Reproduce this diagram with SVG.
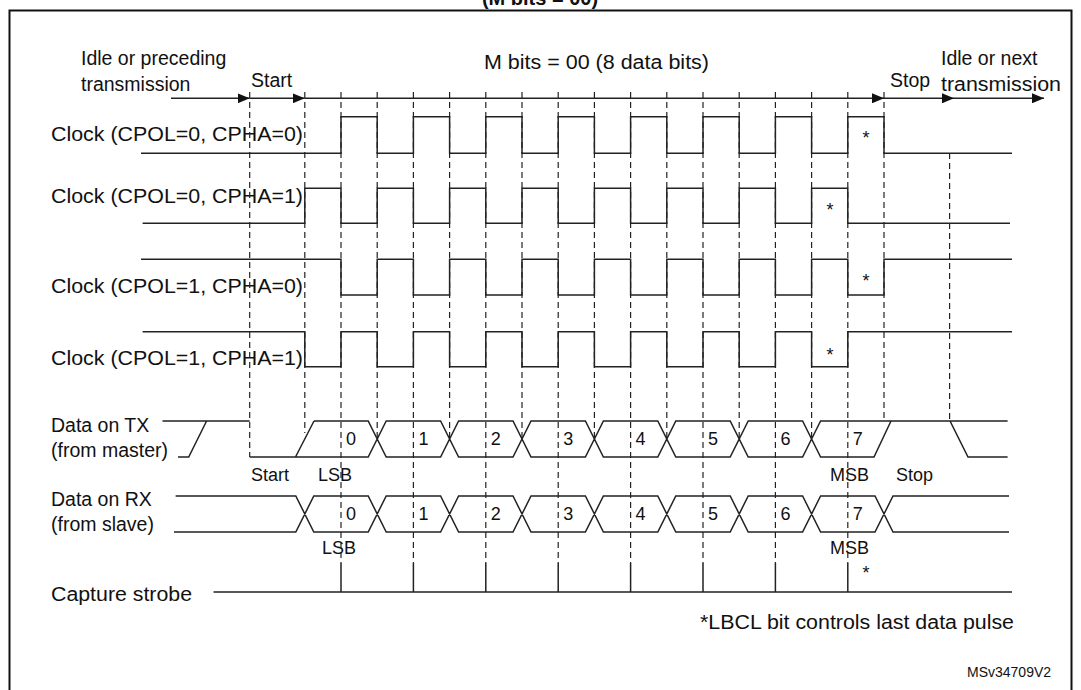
<svg xmlns="http://www.w3.org/2000/svg" width="1081" height="690" viewBox="0 0 1081 690">
<style>
text{font-family:"Liberation Sans",Arial,sans-serif;font-size:19.5px;fill:#111}
.d{font-size:18px}
.a{font-size:18px}
.s{stroke:#222;stroke-width:1.5;fill:none}
.dash{stroke:#222;stroke-width:1.2;stroke-dasharray:6,4;fill:none}
.arr{stroke:#222;stroke-width:1.5;fill:none;marker-end:url(#ah)}
</style>
<defs>
<marker id="ah" viewBox="0 0 12 10" refX="12" refY="5" markerWidth="12" markerHeight="10" markerUnits="userSpaceOnUse" orient="auto"><path d="M0,0L12,5L0,10Z" fill="#111"/></marker>
</defs>
<rect x="9.5" y="10.5" width="1062" height="690" fill="none" stroke="#111" stroke-width="2"/>
<text x="540" y="5" text-anchor="middle" style="font-weight:bold;font-size:20px">(M bits = 00)</text>

<g id="labels">
<text x="81" y="65">Idle or preceding</text>
<text x="81" y="91">transmission</text>
<text x="251" y="87">Start</text>
<text x="484" y="69" textLength="225" lengthAdjust="spacingAndGlyphs">M bits = 00 (8 data bits)</text>
<text x="890" y="87">Stop</text>
<text x="941" y="65">Idle or next</text>
<text x="941" y="91" textLength="120" lengthAdjust="spacingAndGlyphs">transmission</text>
<text x="51" y="141" textLength="252" lengthAdjust="spacingAndGlyphs">Clock (CPOL=0, CPHA=0)</text>
<text x="51" y="203" textLength="252" lengthAdjust="spacingAndGlyphs">Clock (CPOL=0, CPHA=1)</text>
<text x="51" y="293" textLength="252" lengthAdjust="spacingAndGlyphs">Clock (CPOL=1, CPHA=0)</text>
<text x="51" y="365" textLength="252" lengthAdjust="spacingAndGlyphs">Clock (CPOL=1, CPHA=1)</text>
<text x="51" y="432">Data on TX</text>
<text x="51" y="457">(from master)</text>
<text x="51" y="506">Data on RX</text>
<text x="51" y="531">(from slave)</text>
<text x="51" y="601" textLength="141" lengthAdjust="spacingAndGlyphs">Capture strobe</text>
<text x="251" y="481" class="d">Start</text>
<text x="318" y="481" class="d">LSB</text>
<text x="830" y="481" class="d">MSB</text>
<text x="896" y="481" class="d">Stop</text>
<text x="322" y="554" class="d">LSB</text>
<text x="830" y="554" class="d">MSB</text>
<text x="700" y="629" textLength="314" lengthAdjust="spacingAndGlyphs">*LBCL bit controls last data pulse</text>
<text x="967" y="677" style="font-size:14px">MSv34709V2</text>
<g>
<text x="866" y="144" text-anchor="middle" class="a">*</text>
<text x="830" y="216" text-anchor="middle" class="a">*</text>
<text x="866" y="287" text-anchor="middle" class="a">*</text>
<text x="830" y="361" text-anchor="middle" class="a">*</text>
<text x="866" y="579" text-anchor="middle" class="a">*</text>
</g>
<g>
<text x="346" y="445" class="d">0</text><text x="418.4" y="445" class="d">1</text><text x="490.8" y="445" class="d">2</text><text x="563.2" y="445" class="d">3</text><text x="635.6" y="445" class="d">4</text><text x="708" y="445" class="d">5</text><text x="780.4" y="445" class="d">6</text><text x="852.8" y="445" class="d">7</text>
<text x="346" y="520" class="d">0</text><text x="418.4" y="520" class="d">1</text><text x="490.8" y="520" class="d">2</text><text x="563.2" y="520" class="d">3</text><text x="635.6" y="520" class="d">4</text><text x="708" y="520" class="d">5</text><text x="780.4" y="520" class="d">6</text><text x="852.8" y="520" class="d">7</text>
</g>
</g>

<g id="connectors">
<path class="arr" d="M171,98.3H249.7"/>
<path class="arr" d="M249.7,98.3H304.8"/>
<path class="arr" d="M304.8,98.3H884"/>
<path class="arr" d="M884,98.3H954"/>
<path class="arr" d="M954,98.3H1044"/>
</g>

<g id="gridlines">
<path class="dash" d="M249.7,92V457M304.8,92V433M377.2,92V438M449.6,92V438M522,92V438M594.4,92V438M666.8,92V438M739.2,92V438M811.6,92V438M884,92V421M949.6,153V421"/>
<path class="dash" d="M341,92V563M413.4,92V563M485.8,92V563M558.2,92V563M630.6,92V563M703,92V563M775.4,92V563M847.8,92V563"/>
</g>

<g id="clock00"><path class="s" d="M141,153.3H341V116.7H377.2V153.3H413.4V116.7H449.6V153.3H485.8V116.7H522V153.3H558.2V116.7H594.4V153.3H630.6V116.7H666.8V153.3H703V116.7H739.2V153.3H775.4V116.7H811.6V153.3H847.8V116.7H884V153.3H1012"/></g>
<g id="clock01"><path class="s" d="M142.6,223.3H304.8V188.3H341V223.3H377.2V188.3H413.4V223.3H449.6V188.3H485.8V223.3H522V188.3H558.2V223.3H594.4V188.3H630.6V223.3H666.8V188.3H703V223.3H739.2V188.3H775.4V223.3H811.6V188.3H847.8V223.3H1010"/></g>
<g id="clock10"><path class="s" d="M141,259.3H341V295H377.2V259.3H413.4V295H449.6V259.3H485.8V295H522V259.3H558.2V295H594.4V259.3H630.6V295H666.8V259.3H703V295H739.2V259.3H775.4V295H811.6V259.3H847.8V295H884V259.3H1012"/></g>
<g id="clock11"><path class="s" d="M142.6,331.7H304.8V366.7H341V331.7H377.2V366.7H413.4V331.7H449.6V366.7H485.8V331.7H522V366.7H558.2V331.7H594.4V366.7H630.6V331.7H666.8V366.7H703V331.7H739.2V366.7H775.4V331.7H811.6V366.7H847.8V331.7H1012"/></g>

<g id="tx"><path class="s" d="M162.5,421H249.7M178,457H188.7L206.6,421M249.7,457H368.2L386.2,421H440.6L458.6,457H513L531,421H585.4L603.4,457H657.8L675.8,421H730.2L748.2,457H802.6L820.6,421H950L968,457H1007.6M950,421H1007.6M314,421H368.2L386.2,457H440.6L458.6,421H513L531,457H585.4L603.4,421H657.8L675.8,457H730.2L748.2,421H802.6L820.6,457H874L891,421M295.5,457L314,421"/></g>

<g id="rx"><path class="s" d="M175.6,496H295.8L313.8,532H368.2L386.2,496H440.6L458.6,532H513L531,496H585.4L603.4,532H657.8L675.8,496H730.2L748.2,532H802.6L820.6,496H875L893,532H1009M174,532H295.8L313.8,496H368.2L386.2,532H440.6L458.6,496H513L531,532H585.4L603.4,496H657.8L675.8,532H730.2L748.2,496H802.6L820.6,532H875L893,496H1009"/></g>

<g id="strobe"><path class="s" d="M213.5,592H1012M341,563V592M413.4,563V592M485.8,563V592M558.2,563V592M630.6,563V592M703,563V592M775.4,563V592M847.8,563V592"/></g>
</svg>
